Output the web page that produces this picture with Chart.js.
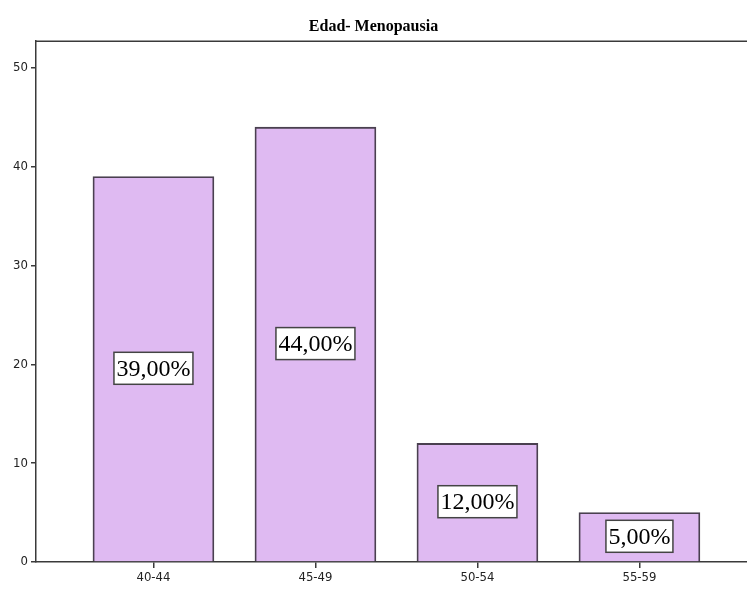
<!DOCTYPE html>
<html>
<head>
<meta charset="utf-8">
<script src="https://cdn.jsdelivr.net/npm/chart.js@4.4.1/dist/chart.umd.min.js"></script>
<style>
  html, body { margin: 0; padding: 0; background: #fff; }
  #wrap { width: 747px; height: 589px; }
</style>
</head>
<body>
<div id="wrap"><canvas id="menopausiaChart" width="747" height="589"></canvas></div>
<script>
// Edad de menopausia - frecuencias por grupo de edad
const categorias = ['40-44', '45-49', '50-54', '55-59'];
const frecuencias = [39, 44, 12, 5];
const porcentajes = ['39,00%', '44,00%', '12,00%', '5,00%'];
const yTicks = [0, 10, 20, 30, 40, 50];

const lineColor = '#3a3a3a';
const tickFont = '"Liberation Sans Narrow", "DejaVu Sans Condensed", sans-serif';

// marco superior del área del gráfico + etiquetas de porcentaje
const framePlugin = {
    id: 'frame',
    afterDatasetsDraw(chart) {
        const { ctx, chartArea } = chart;
        ctx.save();
        ctx.strokeStyle = lineColor;
        ctx.lineWidth = 1.5;
        ctx.beginPath();
        ctx.moveTo(chartArea.left, chartArea.top);
        ctx.lineTo(chartArea.right, chartArea.top);
        ctx.stroke();

        const meta = chart.getDatasetMeta(0);
        ctx.font = '24px "Liberation Serif", "DejaVu Serif", serif';
        ctx.textAlign = 'center';
        ctx.textBaseline = 'middle';
        meta.data.forEach((bar, i) => {
            const yMid = chart.scales.y.getPixelForValue(frecuencias[i] / 2) - 1;
            const txt = porcentajes[i];
            const w = ctx.measureText(txt).width + 5;
            const h = 32;
            ctx.fillStyle = '#ffffff';
            ctx.fillRect(bar.x - w / 2, yMid - h / 2, w, h);
            ctx.strokeStyle = '#444';
            ctx.lineWidth = 1.5;
            ctx.strokeRect(bar.x - w / 2, yMid - h / 2, w, h);
            ctx.fillStyle = '#000';
            ctx.fillText(txt, bar.x, yMid + 1);
        });
        ctx.restore();
    }
};

new Chart(document.getElementById('menopausiaChart'), {
    type: 'bar',
    data: {
        datasets: [{
            data: frecuencias.map((v, i) => ({ x: i, y: v })),
            backgroundColor: '#dfbaf2',
            borderColor: '#4a4050',
            borderWidth: 1.8,
            barThickness: 121
        }]
    },
    options: {
        responsive: false,
        animation: false,
        layout: { padding: 0 },
        plugins: {
            legend: { display: false },
            tooltip: { enabled: false },
            title: {
                display: true,
                text: 'Edad- Menopausia',
                color: '#000',
                font: { family: '"Liberation Serif", "DejaVu Serif", serif', size: 16, weight: 'bold' },
                padding: { top: 17, bottom: 5 }
            }
        },
        scales: {
            x: {
                type: 'linear',
                offset: false,
                min: -0.725,
                max: 3.664,
                afterBuildTicks: (axis) => {
                    axis.ticks = categorias.map((c, i) => ({ value: i }));
                },
                afterFit: (axis) => { axis.height = 27; },
                ticks: {
                    callback: (v) => categorias[v],
                    color: '#222',
                    padding: 2,
                    maxRotation: 0,
                    font: { family: tickFont, size: 13 }
                },
                grid: { display: true, offset: false, drawOnChartArea: false, tickLength: 6, color: lineColor, lineWidth: 1.5 },
                border: { display: true, color: lineColor, width: 1.5 }
            },
            y: {
                min: 0,
                max: 52.7,
                afterBuildTicks: (axis) => {
                    axis.ticks = yTicks.map(v => ({ value: v }));
                },
                afterFit: (axis) => { axis.width = 36; },
                ticks: {
                    color: '#222',
                    padding: 3,
                    font: { family: tickFont, size: 13 }
                },
                grid: { display: true, drawOnChartArea: false, tickLength: 5, color: lineColor, lineWidth: 1.5 },
                border: { display: true, color: lineColor, width: 1.5 }
            }
        }
    },
    plugins: [framePlugin]
});
</script>
</body>
</html>
